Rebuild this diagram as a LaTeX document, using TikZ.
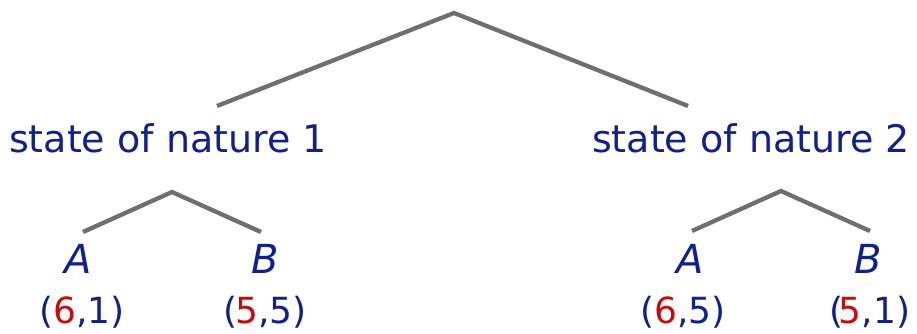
\documentclass[tikz,border=0pt]{standalone}
\usepackage{fontspec}
\setmainfont{DejaVu Sans}
\usetikzlibrary{positioning}
\definecolor{navy}{RGB}{16,32,145}
\definecolor{payred}{RGB}{200,10,10}
\definecolor{branchgray}{RGB}{112,110,110}

\begin{document}
\begin{tikzpicture}[x=1pt,y=1pt,
        branch/.style={draw=branchgray,line width=4.3pt},
        state/.style={text=navy,anchor=base,inner sep=0pt,font=\fontsize{38}{40}\selectfont},
        act/.style={text=navy,anchor=base,inner sep=0pt,font=\fontsize{40}{42}\selectfont\itshape},
        pay/.style={text=navy,anchor=base,inner sep=0pt,font=\fontsize{36}{38}\selectfont}]
        \useasboundingbox (0,0) rectangle (917,333);
        % nature's move
        \coordinate (root) at (454,320);
        \coordinate (s1top) at (217,227);
        \coordinate (s2top) at (688,227);
        \draw[branch] (s1top) -- (root) -- (s2top);
        \node[state] (s1) at (168,181) {state of nature 1};
        \node[state] (s2) at (751,181) {state of nature 2};

        % choices after state 1
        \coordinate (d1) at (172,141);
        \coordinate (d1a) at (83,101);
        \coordinate (d1b) at (261,101);
        \draw[branch] (d1a) -- (d1) -- (d1b);
        \node[act] (a1) at (78,60) {A};
        \node[act] (b1) at (265,60) {B};
        \node[pay] (p1a) at (82,10) {(\textcolor{payred}{6},1)};
        \node[pay] (p1b) at (265,10) {(\kern-2pt\textcolor{payred}{5},5)};

        % choices after state 2
        \coordinate (d2) at (781,142);
        \coordinate (d2a) at (692,102);
        \coordinate (d2b) at (870,102);
        \draw[branch] (d2a) -- (d2) -- (d2b);
        \node[act] (a2) at (690,60) {A};
        \node[act] (b2) at (868,60) {B};
        \node[pay] (p2a) at (683,10) {(\textcolor{payred}{6},5)};
        \node[pay] (p2b) at (870,10) {(\kern-5pt\textcolor{payred}{5},1)};
\end{tikzpicture}
\end{document}
